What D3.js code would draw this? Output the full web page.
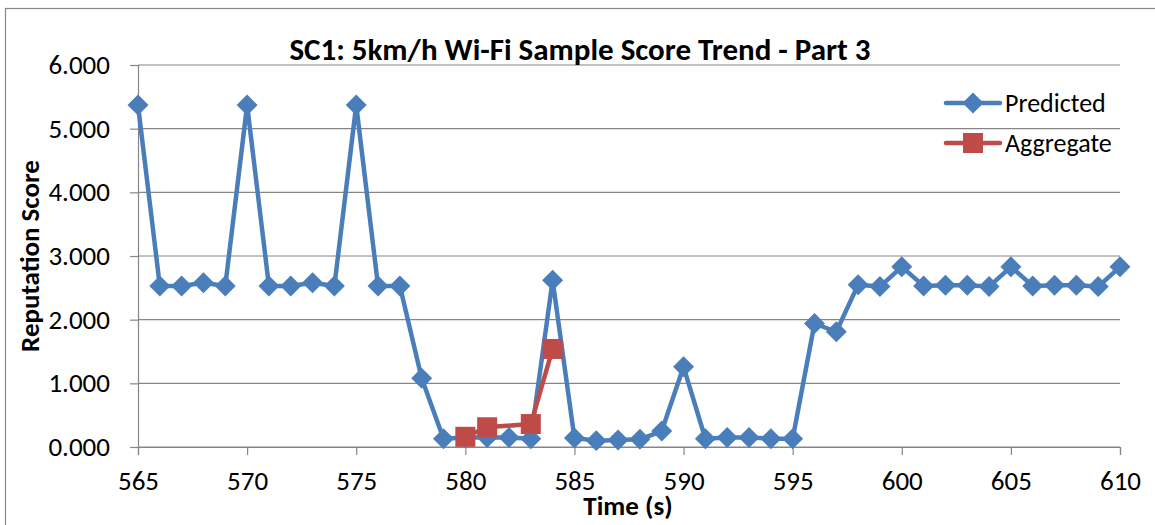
<!DOCTYPE html>
<html>
<head>
<meta charset="utf-8">
<script src="https://cdn.jsdelivr.net/npm/d3@7"></script>
<style>
  body { margin: 0; background: #fff; }
  svg text { font-family: Carlito, Lato, "Open Sans", sans-serif; fill: #000; }
</style>
</head>
<body>
<svg id="chart" width="1155" height="525"></svg>
<script>
// time (s) for the predicted series
const times = d3.range(565, 611);
const predicted = [
  5.37, 2.53, 2.53, 2.58, 2.53, 5.37, 2.53, 2.53, 2.58, 2.53,
  5.37, 2.53, 2.53, 1.08, 0.13, 0.15, 0.15, 0.15, 0.13, 2.62,
  0.14, 0.10, 0.11, 0.12, 0.25, 1.26, 0.13, 0.15, 0.15, 0.13,
  0.13, 1.94, 1.81, 2.55, 2.52, 2.83, 2.53, 2.54, 2.54, 2.52,
  2.83, 2.53, 2.54, 2.54, 2.52, 2.83
];
const aggTimes = [580, 581, 583, 584];
const aggregate = [0.16, 0.31, 0.36, 1.54];
const yTicks = [0, 1, 2, 3, 4, 5, 6];
const xTicks = [565, 570, 575, 580, 585, 590, 595, 600, 605, 610];

const svg = d3.select("#chart");
const margin = { left: 138, right: 1120, top: 65, bottom: 447 };

const x = d3.scaleLinear().domain([565, 610]).range([margin.left, margin.right]);
const y = d3.scaleLinear().domain([0, 6]).range([margin.bottom, margin.top]);

// outer chart border (right/bottom edges fall outside the picture)
svg.append("rect")
  .attr("x", 5.5).attr("y", 8.5)
  .attr("width", 1160).attr("height", 530)
  .attr("fill", "none").attr("stroke", "#868686").attr("stroke-width", 1.2);

// gridlines
svg.append("g")
  .selectAll("line")
  .data(yTicks)
  .join("line")
  .attr("x1", margin.left).attr("x2", margin.right)
  .attr("y1", d => y(d)).attr("y2", d => y(d))
  .attr("stroke", "#868686").attr("stroke-width", 1.2);

// y axis
const yAxis = svg.append("g")
  .attr("transform", `translate(${margin.left},0)`)
  .call(d3.axisLeft(y).tickValues(yTicks).tickFormat(d3.format(".3f")).tickSize(8).tickPadding(20));
yAxis.select(".domain").attr("stroke", "#868686").attr("stroke-width", 1.2);
yAxis.selectAll(".tick line").attr("stroke", "#868686").attr("stroke-width", 1.2);
yAxis.selectAll("text").style("font-size", "27px");

// x axis
const xAxis = svg.append("g")
  .attr("transform", `translate(0,${margin.bottom})`)
  .call(d3.axisBottom(x).tickValues(xTicks).tickFormat(d3.format("d")).tickSize(8).tickPadding(16));
xAxis.select(".domain").attr("stroke", "#868686").attr("stroke-width", 1.2);
xAxis.selectAll(".tick line").attr("stroke", "#868686").attr("stroke-width", 1.2);
xAxis.selectAll("text").style("font-size", "27px");

// predicted series
const predData = times.map((t, i) => ({ t, v: predicted[i] }));
const line = d3.line().x(d => x(d.t)).y(d => y(d.v));
svg.append("path")
  .datum(predData)
  .attr("d", line)
  .attr("fill", "none").attr("stroke", "#4A7EBB").attr("stroke-width", 4.5)
  .attr("stroke-linejoin", "round");
svg.append("g")
  .selectAll("path")
  .data(predData)
  .join("path")
  .attr("transform", d => `translate(${x(d.t)},${y(d.v)}) rotate(45)`)
  .attr("d", d3.symbol().type(d3.symbolSquare).size(220))
  .attr("fill", "#4A7EBB");

// aggregate series
const aggData = aggTimes.map((t, i) => ({ t, v: aggregate[i] }));
svg.append("path")
  .datum(aggData)
  .attr("d", line)
  .attr("fill", "none").attr("stroke", "#BE4B48").attr("stroke-width", 4.5);
svg.append("g")
  .selectAll("rect")
  .data(aggData)
  .join("rect")
  .attr("x", d => x(d.t) - 10).attr("y", d => y(d.v) - 10)
  .attr("width", 20).attr("height", 20)
  .attr("fill", "#BE4B48");

// title
svg.append("text")
  .attr("x", 580).attr("y", 60)
  .attr("text-anchor", "middle")
  .style("font-size", "31px").style("font-weight", "bold")
  .text("SC1: 5km/h Wi-Fi Sample Score Trend - Part 3");

// axis titles
svg.append("text")
  .attr("transform", "translate(39,256) rotate(-90)")
  .attr("text-anchor", "middle")
  .style("font-size", "27px").style("font-weight", "bold")
  .text("Reputation Score");
svg.append("text")
  .attr("x", 628).attr("y", 515)
  .attr("text-anchor", "middle")
  .style("font-size", "27px").style("font-weight", "bold")
  .text("Time (s)");

// legend
const legend = [
  { name: "Predicted", color: "#4A7EBB", shape: "diamond", y: 103 },
  { name: "Aggregate", color: "#BE4B48", shape: "square", y: 143 }
];
const lg = svg.append("g");
legend.forEach(l => {
  lg.append("line")
    .attr("x1", 946).attr("x2", 1000)
    .attr("y1", l.y).attr("y2", l.y)
    .attr("stroke", l.color).attr("stroke-width", 4.5).attr("stroke-linecap", "round");
  if (l.shape === "diamond") {
    lg.append("path")
      .attr("transform", `translate(973,${l.y}) rotate(45)`)
      .attr("d", d3.symbol().type(d3.symbolSquare).size(220))
      .attr("fill", l.color);
  } else {
    lg.append("rect")
      .attr("x", 963).attr("y", l.y - 10).attr("width", 20).attr("height", 20)
      .attr("fill", l.color);
  }
  lg.append("text")
    .attr("x", 1005).attr("y", l.y + 9)
    .style("font-size", "26px")
    .text(l.name);
});
</script>
</body>
</html>
